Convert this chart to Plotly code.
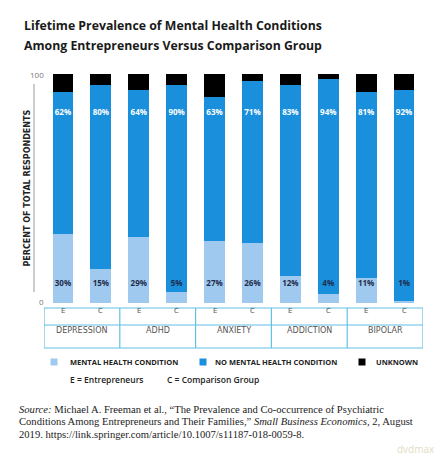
import plotly.graph_objects as go

# ---------------- data ----------------
conditions = ["DEPRESSION", "ADHD", "ANXIETY", "ADDICTION", "BIPOLAR"]
groups = ["E", "C"]
mental_health = [30, 15, 29, 5, 27, 26, 12, 4, 11, 1]
no_mental_health = [62, 80, 64, 90, 63, 71, 83, 94, 81, 92]
unknown = [8, 5, 7, 5, 10, 3, 5, 2, 8, 7]
series_names = ["MENTAL HEALTH CONDITION", "NO MENTAL HEALTH CONDITION", "UNKNOWN"]
y_ticks = [0, 100]
title_lines = ["Lifetime Prevalence of Mental Health Conditions",
               "Among Entrepreneurs Versus Comparison Group"]
y_title = "PERCENT OF TOTAL RESPONDENTS"
key_texts = ["E = Entrepreneurs", "C = Comparison Group"]
source_lines = [
    "<i>Source:</i> Michael A. Freeman et al., \u201cThe Prevalence and Co-occurrence of Psychiatric",
    "Conditions Among Entrepreneurs and Their Families,\u201d <i>Small Business Economics</i>, 2, August",
    "2019. https://link.springer.com/article/10.1007/s11187-018-0059-8.",
]
watermark = "dvdmax"

# ---------------- style ----------------
colors = ["#9fc9ee", "#1a8fdc", "#000000"]
table_color = "#62c0e4"
W, H = 443, 460
L, R, T, B = 44, 20, 74, 157
PW, PH = W - L - R, H - T - B


def px(xp):
    return (xp - L) / PW


def py(yp):
    return (H - B - yp) / PH


xcats = [f"{c} {g}" for c in conditions for g in groups]

fig = go.Figure()
for name, vals, col in zip(series_names, [mental_health, no_mental_health, unknown], colors):
    fig.add_bar(x=xcats, y=vals, name=name, marker_color=col, marker_line_width=0,
                showlegend=False, hoverinfo="skip")

# value labels
fig.add_scatter(x=xcats, y=[8.3] * len(xcats), mode="text",
                text=[f"{v}%" for v in mental_health],
                textfont=dict(family="Open Sans", size=8, color="#1f2d4d", weight="bold"),
                showlegend=False, hoverinfo="skip")
fig.add_scatter(x=xcats, y=[83] * len(xcats), mode="text",
                text=[f"{v}%" for v in no_mental_health],
                textfont=dict(family="Open Sans", size=8, color="#ffffff", weight="bold"),
                showlegend=False, hoverinfo="skip")

shapes = []
ann = []

# y axis line
shapes.append(dict(type="line", xref="paper", yref="paper", x0=px(34), x1=px(34),
                   y0=py(84), y1=py(292), line=dict(color="#9a9a9a", width=1)))
# tick labels
for t in y_ticks:
    ann.append(dict(x=px(45.5), y=t, xref="paper", yref="y", text=str(t), showarrow=False,
                    xanchor="right", yanchor="middle" if t == 100 else "bottom",
                    yshift=0 if t == 100 else -6,
                    font=dict(family="Open Sans", size=8, color="#777777")))
# y title
ann.append(dict(x=px(20), y=py(188), xref="paper", yref="paper", text=y_title, textangle=-90,
                showarrow=False, font=dict(family="DejaVu Sans", size=8, color="#222222", weight="bold")))

# title
for i, line in enumerate(title_lines):
    ann.append(dict(x=px(22), y=py(26 + 19 * i), xref="paper", yref="paper", text=line,
                    showarrow=False, xanchor="left", yanchor="middle",
                    font=dict(family="Open Sans", size=12.3, color="#1a1a1a", weight="bold")))

# table
n = len(xcats)
shapes.append(dict(type="rect", xref="x", yref="paper", x0=-0.5, x1=n - 0.5,
                   y0=py(348), y1=py(308), line=dict(color=table_color, width=1.2)))
shapes.append(dict(type="line", xref="x", yref="paper", x0=-0.5, x1=n - 0.5,
                   y0=py(325), y1=py(325), line=dict(color=table_color, width=1.2)))
for k in range(1, len(conditions)):
    xv = k * len(groups) - 0.5
    shapes.append(dict(type="line", xref="x", yref="paper", x0=xv, x1=xv,
                       y0=py(348), y1=py(308), line=dict(color=table_color, width=1.2)))
for i, c in enumerate(xcats):
    ann.append(dict(x=c, y=py(317), xref="x", yref="paper", text=groups[i % 2], showarrow=False,
                    font=dict(family="DejaVu Sans", size=7, color="#555555")))
for k, c in enumerate(conditions):
    ann.append(dict(x=k * 2 + 0.5, y=py(336.5), xref="x", yref="paper", text=c, showarrow=False,
                    font=dict(family="DejaVu Sans", size=8, color="#555555")))

# legend
leg_sq = [54, 203, 362]
leg_tx = [68, 213, 374]
for sx, tx, name, col in zip(leg_sq, leg_tx, series_names, colors):
    shapes.append(dict(type="rect", xref="paper", yref="paper", x0=px(sx - 3.5), x1=px(sx + 3.5),
                       y0=py(362 + 3.5), y1=py(362 - 3.5), fillcolor=col, line=dict(width=0)))
    ann.append(dict(x=px(tx), y=py(362), xref="paper", yref="paper", text=name, showarrow=False,
                    xanchor="left", yanchor="middle",
                    font=dict(family="Open Sans", size=7.5, color="#222222", weight="bold")))
for tx, t in zip([68, 165], key_texts):
    ann.append(dict(x=px(tx), y=py(379), xref="paper", yref="paper", text=t, showarrow=False,
                    xanchor="left", yanchor="middle",
                    font=dict(family="Open Sans", size=8.5, color="#222222", weight=600)))

# source
for i, line in enumerate(source_lines):
    ann.append(dict(x=px(17), y=py(409 + 12.5 * i), xref="paper", yref="paper", text=line,
                    showarrow=False, xanchor="left", yanchor="middle",
                    font=dict(family="Liberation Serif", size=10.6, color="#222222")))
ann.append(dict(x=px(437), y=py(449), xref="paper", yref="paper", text=watermark, showarrow=False,
                xanchor="right", yanchor="middle",
                font=dict(family="Open Sans", size=10, color="#e2dcc4")))

fig.update_layout(
    width=W, height=H, margin=dict(l=L, r=R, t=T, b=B),
    barmode="stack", bargap=0.45,
    paper_bgcolor="white", plot_bgcolor="white",
    xaxis=dict(type="category", categoryorder="array", categoryarray=xcats,
               range=[-0.5, n - 0.5], showticklabels=False, showgrid=False, zeroline=False,
               showline=False, ticks=""),
    yaxis=dict(range=[0, 100], visible=False),
    shapes=shapes, annotations=ann,
)

fig.write_html("out.html")
